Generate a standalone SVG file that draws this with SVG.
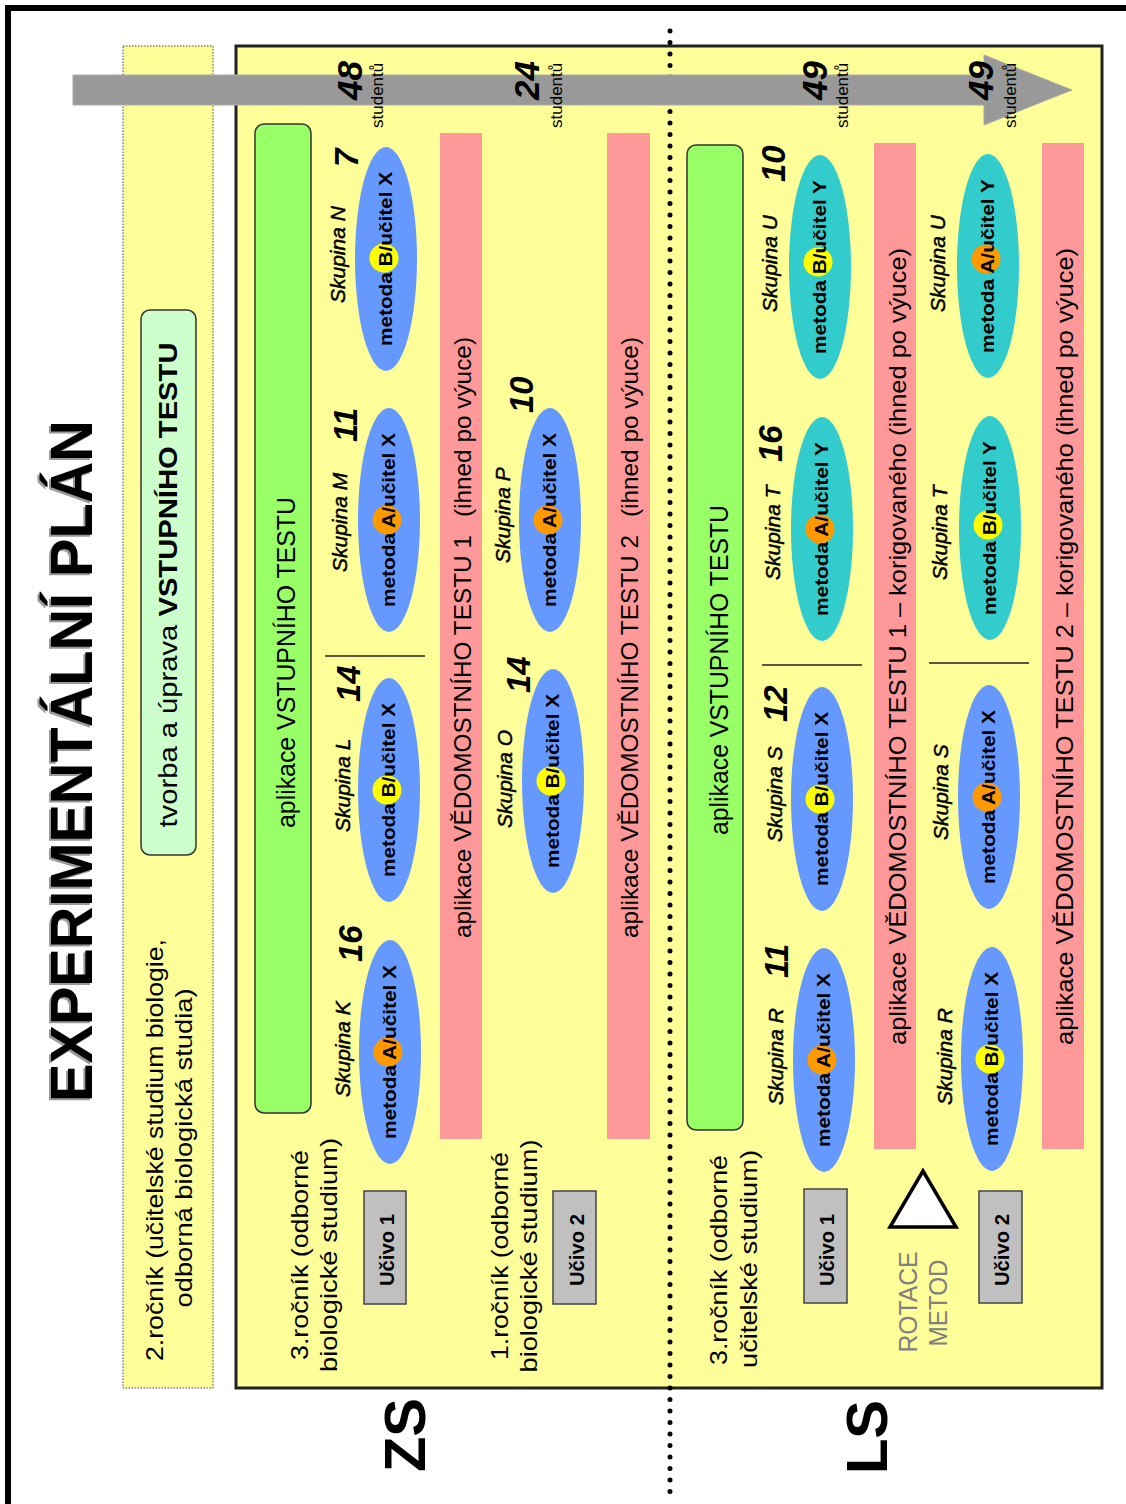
<svg xmlns="http://www.w3.org/2000/svg" width="1126" height="1504" viewBox="0 0 1126 1504">
  <defs>
    <style>
      text { font-family: "Liberation Sans", Arial, sans-serif; fill: #000; }
      .title { font-size: 60px; font-weight: bold; }
      .shadow { fill: #9a9a9a; }
      .big { font-size: 58px; font-weight: bold; text-anchor: middle; }
      .lbl { font-size: 24px; text-anchor: middle; }
      .bar { font-size: 24px; }
      .grn { font-size: 25px; }
      .m { font-size: 19px; font-weight: bold; text-anchor: middle; }
      .sk { font-size: 21px; font-style: italic; stroke: #000; stroke-width: 0.5; }
      .n { font-size: 33px; font-weight: bold; font-style: italic; }
      .cnt { font-size: 35px; font-weight: bold; font-style: italic; }
      .stu { font-size: 17px; }
      .uc { font-size: 20px; font-weight: bold; text-anchor: middle; }
      .rot { font-size: 25px; fill: #808080; text-anchor: middle; }
      .ex { fill: #6699FF; }
      .ey { fill: #33CCCC; }
      .ma { fill: #FF9900; }
      .mb { fill: #FFFF00; }
      .pink { fill: #FF9999; }
      .green { fill: #99FF66; stroke: #333; stroke-width: 1.5; }
      .gray { fill: #C0C0C0; stroke: #444; stroke-width: 1.5; }
      .sep { stroke: #222; stroke-width: 1.5; }
    </style>
  </defs>

  <rect width="1126" height="1504" fill="#fff"/>
  <!-- outer frame, continues past the right and bottom edges -->
  <rect x="8" y="8" width="1200" height="1600" fill="none" stroke="#000" stroke-width="6"/>

  <!-- left strip: 2nd year -->
  <g id="box-2rocnik">
    <rect x="123" y="46" width="90" height="1342" fill="#FFFF99" stroke="#444" stroke-width="1" stroke-dasharray="1.5 1.5"/>
    <text class="lbl" x="163" y="1150" transform="rotate(-90 163 1150)" textLength="422" lengthAdjust="spacingAndGlyphs">2.ročník (učitelské studium biologie,</text>
    <text class="lbl" x="192" y="1148" transform="rotate(-90 192 1148)" textLength="319" lengthAdjust="spacingAndGlyphs">odborná biologická studia)</text>
  </g>
  <g id="box-tvorba">
    <rect x="141" y="310" width="55" height="545" rx="9" fill="#CCFFCC" stroke="#333" stroke-width="1.5"/>
    <text class="lbl" x="177" y="585" transform="rotate(-90 177 585)" textLength="485" lengthAdjust="spacingAndGlyphs" style="font-size:26px">tvorba a úprava <tspan font-weight="bold">VSTUPNÍHO TESTU</tspan></text>
  </g>

  <!-- main panel -->
  <rect id="panel" x="236" y="46" width="866" height="1342" fill="#FFFF99" stroke="#222" stroke-width="3"/>

  <!-- dividers -->
  <g id="dividers">
    <line x1="670" y1="31" x2="670" y2="1492" stroke="#000" stroke-width="5" stroke-linecap="round" stroke-dasharray="0 11.5"/>
    <line class="sep" x1="325" y1="656" x2="425" y2="656"/>
    <line class="sep" x1="762" y1="665" x2="862" y2="665"/>
    <line class="sep" x1="929" y1="663" x2="1029" y2="663"/>
  </g>

  <!-- timeline arrow with student counts -->
  <g id="timeline">
    <polygon points="73,75 984,75 984,55 1072,90 984,125 984,105 73,105" fill="#999999" stroke="#aaaaaa" stroke-width="1"/>
    <text class="cnt" x="362" y="100" transform="rotate(-90 362 100)">48</text>
    <text class="stu" x="383" y="128" transform="rotate(-90 383 128)">studentů</text>
    <text class="cnt" x="539" y="100" transform="rotate(-90 539 100)">24</text>
    <text class="stu" x="562" y="128" transform="rotate(-90 562 128)">studentů</text>
    <text class="cnt" x="827" y="100" transform="rotate(-90 827 100)">49</text>
    <text class="stu" x="848" y="128" transform="rotate(-90 848 128)">studentů</text>
    <text class="cnt" x="993" y="100" transform="rotate(-90 993 100)">49</text>
    <text class="stu" x="1016" y="128" transform="rotate(-90 1016 128)">studentů</text>
  </g>

  <!-- title and semester labels -->
  <g id="title">
    <text class="title shadow" x="90" y="1104" transform="rotate(-90 90 1104)" textLength="682" lengthAdjust="spacingAndGlyphs">EXPERIMENTÁLNÍ PLÁN</text>
    <text class="title" x="92" y="1102" transform="rotate(-90 92 1102)" textLength="682" lengthAdjust="spacingAndGlyphs">EXPERIMENTÁLNÍ PLÁN</text>
  </g>
  <g id="label-zs"><text class="big" x="425" y="1435" transform="rotate(-90 425 1435)">ZS</text></g>
  <g id="label-ls"><text class="big" x="887" y="1437" transform="rotate(-90 887 1437)">LS</text></g>

  <!-- entry test bars -->
  <g id="zs-entry-test">
    <rect class="green" x="255" y="124" width="56" height="989" rx="9"/>
    <text class="grn" x="295" y="828" transform="rotate(-90 295 828)" textLength="331" lengthAdjust="spacingAndGlyphs">aplikace VSTUPNÍHO TESTU</text>
  </g>
  <g id="ls-entry-test">
    <rect class="green" x="687" y="145" width="56" height="985" rx="9"/>
    <text class="grn" x="728" y="835" transform="rotate(-90 728 835)" textLength="330" lengthAdjust="spacingAndGlyphs">aplikace VSTUPNÍHO TESTU</text>
  </g>

  <!-- knowledge test bars -->
  <g id="zs-test-1">
    <rect class="pink" x="440" y="133" width="42" height="1006"/>
    <text class="bar" x="471" y="938" transform="rotate(-90 471 938)" textLength="601" lengthAdjust="spacingAndGlyphs">aplikace VĚDOMOSTNÍHO TESTU 1 <tspan dx="11">(ihned po výuce)</tspan></text>
  </g>
  <g id="zs-test-2">
    <rect class="pink" x="607" y="133" width="43" height="1006"/>
    <text class="bar" x="638" y="938" transform="rotate(-90 638 938)" textLength="601" lengthAdjust="spacingAndGlyphs">aplikace VĚDOMOSTNÍHO TESTU 2 <tspan dx="11">(ihned po výuce)</tspan></text>
  </g>
  <g id="ls-test-1">
    <rect class="pink" x="874" y="143" width="42" height="1006"/>
    <text class="bar" x="906" y="1045" transform="rotate(-90 906 1045)" textLength="797" lengthAdjust="spacingAndGlyphs">aplikace VĚDOMOSTNÍHO TESTU 1 – korigovaného (ihned po výuce)</text>
  </g>
  <g id="ls-test-2">
    <rect class="pink" x="1042" y="143" width="42" height="1006"/>
    <text class="bar" x="1073" y="1045" transform="rotate(-90 1073 1045)" textLength="797" lengthAdjust="spacingAndGlyphs">aplikace VĚDOMOSTNÍHO TESTU 2 – korigovaného (ihned po výuce)</text>
  </g>

  <!-- row labels -->
  <g id="row-zs-3">
    <text class="lbl" x="308" y="1255" transform="rotate(-90 308 1255)" textLength="210" lengthAdjust="spacingAndGlyphs">3.ročník (odborné</text>
    <text class="lbl" x="337" y="1255" transform="rotate(-90 337 1255)" textLength="234" lengthAdjust="spacingAndGlyphs">biologické studium)</text>
  </g>
  <g id="row-zs-1">
    <text class="lbl" x="508" y="1256" transform="rotate(-90 508 1256)" textLength="208" lengthAdjust="spacingAndGlyphs">1.ročník (odborné</text>
    <text class="lbl" x="537" y="1256" transform="rotate(-90 537 1256)" textLength="233" lengthAdjust="spacingAndGlyphs">biologické studium)</text>
  </g>
  <g id="row-ls-3">
    <text class="lbl" x="727" y="1260" transform="rotate(-90 727 1260)" textLength="210" lengthAdjust="spacingAndGlyphs">3.ročník (odborné</text>
    <text class="lbl" x="757" y="1259" transform="rotate(-90 757 1259)" textLength="218" lengthAdjust="spacingAndGlyphs">učitelské studium)</text>
  </g>

  <!-- curriculum boxes -->
  <g id="ucivo-zs-1">
    <rect class="gray" x="364" y="1191" width="42" height="113"/>
    <text class="uc" x="394" y="1250" transform="rotate(-90 394 1250)" textLength="72" lengthAdjust="spacingAndGlyphs">Učivo 1</text>
  </g>
  <g id="ucivo-zs-2">
    <rect class="gray" x="553" y="1191" width="43" height="113"/>
    <text class="uc" x="584" y="1250" transform="rotate(-90 584 1250)" textLength="72" lengthAdjust="spacingAndGlyphs">Učivo 2</text>
  </g>
  <g id="ucivo-ls-1">
    <rect class="gray" x="804" y="1189" width="43" height="114"/>
    <text class="uc" x="834" y="1250" transform="rotate(-90 834 1250)" textLength="72" lengthAdjust="spacingAndGlyphs">Učivo 1</text>
  </g>
  <g id="ucivo-ls-2">
    <rect class="gray" x="979" y="1191" width="43" height="112"/>
    <text class="uc" x="1009" y="1250" transform="rotate(-90 1009 1250)" textLength="72" lengthAdjust="spacingAndGlyphs">Učivo 2</text>
  </g>

  <!-- method rotation marker -->
  <g id="rotace">
    <polygon points="923,1171 890,1227 956,1227" fill="#fff" stroke="#000" stroke-width="3.5" stroke-linejoin="miter"/>
    <text class="rot" x="917" y="1302" transform="rotate(-90 917 1302)" textLength="101" lengthAdjust="spacingAndGlyphs">ROTACE</text>
    <text class="rot" x="947" y="1303" transform="rotate(-90 947 1303)" textLength="87" lengthAdjust="spacingAndGlyphs">METOD</text>
  </g>

  <!-- groups: winter semester, 3rd year -->
  <g id="zs-k">
    <ellipse class="ex" cx="390" cy="1052" rx="31" ry="112"/>
    <circle class="ma" cx="388" cy="1052" r="14.5"/>
    <text class="m" x="396" y="1052" transform="rotate(-90 396 1052)" textLength="174" lengthAdjust="spacingAndGlyphs">metoda A/učitel X</text>
    <text class="sk" x="350" y="1097" transform="rotate(-90 350 1097)">Skupina K</text>
    <text class="n" x="362" y="962" transform="rotate(-90 362 962)">16</text>
  </g>
  <g id="zs-l">
    <ellipse class="ex" cx="389" cy="790" rx="31" ry="112"/>
    <circle class="mb" cx="387" cy="790" r="14.5"/>
    <text class="m" x="395" y="790" transform="rotate(-90 395 790)" textLength="174" lengthAdjust="spacingAndGlyphs">metoda B/učitel X</text>
    <text class="sk" x="350" y="832" transform="rotate(-90 350 832)">Skupina L</text>
    <text class="n" x="360" y="702" transform="rotate(-90 360 702)">14</text>
  </g>
  <g id="zs-m">
    <ellipse class="ex" cx="389" cy="520" rx="31" ry="112"/>
    <circle class="ma" cx="387" cy="520" r="14.5"/>
    <text class="m" x="395" y="520" transform="rotate(-90 395 520)" textLength="174" lengthAdjust="spacingAndGlyphs">metoda A/učitel X</text>
    <text class="sk" x="347" y="572" transform="rotate(-90 347 572)">Skupina M</text>
    <text class="n" x="357" y="442" transform="rotate(-90 357 442)">11</text>
  </g>
  <g id="zs-n">
    <ellipse class="ex" cx="386" cy="259" rx="31" ry="112"/>
    <circle class="mb" cx="384" cy="258" r="14.5"/>
    <text class="m" x="392" y="259" transform="rotate(-90 392 259)" textLength="174" lengthAdjust="spacingAndGlyphs">metoda B/učitel X</text>
    <text class="sk" x="345" y="303" transform="rotate(-90 345 303)">Skupina N</text>
    <text class="n" x="358" y="167" transform="rotate(-90 358 167)">7</text>
  </g>

  <!-- groups: winter semester, 1st year -->
  <g id="zs-o">
    <ellipse class="ex" cx="553" cy="781" rx="31" ry="112"/>
    <circle class="mb" cx="551" cy="781" r="14.5"/>
    <text class="m" x="559" y="781" transform="rotate(-90 559 781)" textLength="174" lengthAdjust="spacingAndGlyphs">metoda B/učitel X</text>
    <text class="sk" x="512" y="828" transform="rotate(-90 512 828)">Skupina O</text>
    <text class="n" x="530" y="693" transform="rotate(-90 530 693)">14</text>
  </g>
  <g id="zs-p">
    <ellipse class="ex" cx="550" cy="520" rx="31" ry="112"/>
    <circle class="ma" cx="548" cy="520" r="14.5"/>
    <text class="m" x="556" y="520" transform="rotate(-90 556 520)" textLength="174" lengthAdjust="spacingAndGlyphs">metoda A/učitel X</text>
    <text class="sk" x="510" y="563" transform="rotate(-90 510 563)">Skupina P</text>
    <text class="n" x="533" y="413" transform="rotate(-90 533 413)">10</text>
  </g>

  <!-- groups: summer semester, first run -->
  <g id="ls-r1">
    <ellipse class="ex" cx="824" cy="1060" rx="31" ry="112"/>
    <circle class="ma" cx="822" cy="1060" r="14.5"/>
    <text class="m" x="830" y="1060" transform="rotate(-90 830 1060)" textLength="174" lengthAdjust="spacingAndGlyphs">metoda A/učitel X</text>
    <text class="sk" x="783" y="1105" transform="rotate(-90 783 1105)">Skupina R</text>
    <text class="n" x="788" y="978" transform="rotate(-90 788 978)">11</text>
  </g>
  <g id="ls-s1">
    <ellipse class="ex" cx="822" cy="799" rx="31" ry="112"/>
    <circle class="mb" cx="820" cy="799" r="14.5"/>
    <text class="m" x="828" y="799" transform="rotate(-90 828 799)" textLength="174" lengthAdjust="spacingAndGlyphs">metoda B/učitel X</text>
    <text class="sk" x="782" y="842" transform="rotate(-90 782 842)">Skupina S</text>
    <text class="n" x="787" y="722" transform="rotate(-90 787 722)">12</text>
  </g>
  <g id="ls-t1">
    <ellipse class="ey" cx="822" cy="529" rx="31" ry="112"/>
    <circle class="ma" cx="820" cy="529" r="14.5"/>
    <text class="m" x="828" y="529" transform="rotate(-90 828 529)" textLength="174" lengthAdjust="spacingAndGlyphs">metoda A/učitel Y</text>
    <text class="sk" x="780" y="580" transform="rotate(-90 780 580)">Skupina T</text>
    <text class="n" x="782" y="462" transform="rotate(-90 782 462)">16</text>
  </g>
  <g id="ls-u1">
    <ellipse class="ey" cx="820" cy="267" rx="31" ry="112"/>
    <circle class="mb" cx="818" cy="262" r="14.5"/>
    <text class="m" x="826" y="267" transform="rotate(-90 826 267)" textLength="174" lengthAdjust="spacingAndGlyphs">metoda B/učitel Y</text>
    <text class="sk" x="777" y="312" transform="rotate(-90 777 312)">Skupina U</text>
    <text class="n" x="785" y="182" transform="rotate(-90 785 182)">10</text>
  </g>

  <!-- groups: summer semester, rotated methods -->
  <g id="ls-r2">
    <ellipse class="ex" cx="992" cy="1059" rx="31" ry="112"/>
    <circle class="mb" cx="990" cy="1059" r="14.5"/>
    <text class="m" x="998" y="1059" transform="rotate(-90 998 1059)" textLength="174" lengthAdjust="spacingAndGlyphs">metoda B/učitel X</text>
    <text class="sk" x="952" y="1105" transform="rotate(-90 952 1105)">Skupina R</text>
  </g>
  <g id="ls-s2">
    <ellipse class="ex" cx="989" cy="797" rx="31" ry="112"/>
    <circle class="ma" cx="987" cy="797" r="14.5"/>
    <text class="m" x="995" y="797" transform="rotate(-90 995 797)" textLength="174" lengthAdjust="spacingAndGlyphs">metoda A/učitel X</text>
    <text class="sk" x="948" y="840" transform="rotate(-90 948 840)">Skupina S</text>
  </g>
  <g id="ls-t2">
    <ellipse class="ey" cx="990" cy="528" rx="31" ry="112"/>
    <circle class="mb" cx="988" cy="525" r="14.5"/>
    <text class="m" x="996" y="528" transform="rotate(-90 996 528)" textLength="174" lengthAdjust="spacingAndGlyphs">metoda B/učitel Y</text>
    <text class="sk" x="947" y="580" transform="rotate(-90 947 580)">Skupina T</text>
  </g>
  <g id="ls-u2">
    <ellipse class="ey" cx="988" cy="266" rx="31" ry="112"/>
    <circle class="ma" cx="986" cy="259" r="14.5"/>
    <text class="m" x="994" y="266" transform="rotate(-90 994 266)" textLength="174" lengthAdjust="spacingAndGlyphs">metoda A/učitel Y</text>
    <text class="sk" x="945" y="312" transform="rotate(-90 945 312)">Skupina U</text>
  </g>
</svg>
